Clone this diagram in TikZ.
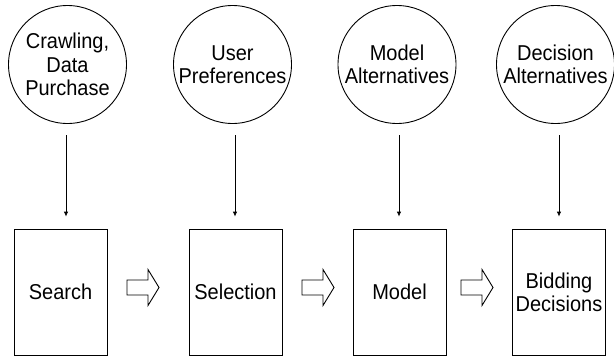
\documentclass[tikz,border=0pt]{standalone}
\usepackage{fontspec}
\setmainfont[FakeStretch=0.93]{Liberation Sans}
\usetikzlibrary{arrows.meta}

\tikzset{
  source/.style={draw, circle, minimum size=118pt, inner sep=0pt, align=center,
    font=\fontsize{21.5}{23.5}\selectfont},
  stage/.style={draw, rectangle, minimum width=93pt, minimum height=125.5pt, inner sep=0pt,
    align=center, font=\fontsize{21.5}{22.5}\selectfont},
  feed/.style={-{Latex[length=5pt,width=4.5pt]}, line width=0.8pt, shorten >=12.5pt},
  blockarrow/.pic={
    \draw[line width=0.9pt, line join=miter] (0,-7.5) -- ++(21,0) -- ++(0,-10.5) -- ++(11,18)
      -- ++(-11,18) -- ++(0,-10.5) -- ++(-21,0) -- cycle;
  }
}

\begin{document}
\begin{tikzpicture}[x=1pt, y=-1pt, line width=0.9pt]
  \useasboundingbox (0,0) rectangle (614,359);

  % input sources
  \node[source] (c1) at (67.5,64.5) {Crawling,\\Data\\Purchase};
  \node[source] (c2) at (232.5,64.5) {User\\Preferences};
  \node[source] (c3) at (397,64.5) {Model\\Alternatives};
  \node[source] (c4) at (555.5,64.5) {Decision\\Alternatives};

  % pipeline stages
  \node[stage] (s1) at (60.5,292.3) {Search};
  \node[stage] (s2) at (235.5,292.3) {Selection};
  \node[stage] (s3) at (399.5,292.3) {Model};
  \node[stage] (s4) at (559,292.3) {Bidding\\Decisions};

  % feed lines from sources into stages
  \coordinate (a1) at (66,135);
  \coordinate (a2) at (235,135);
  \coordinate (a3) at (399,135);
  \coordinate (a4) at (559,135);
  \draw[feed] (a1) -- (a1 |- s1.north);
  \draw[feed] (a2) -- (a2 |- s2.north);
  \draw[feed] (a3) -- (a3 |- s3.north);
  \draw[feed] (a4) -- (a4 |- s4.north);

  % hollow arrows between stages
  \pic at (127,287.5) {blockarrow};
  \pic at (302,287.5) {blockarrow};
  \pic at (461,287.5) {blockarrow};
\end{tikzpicture}
\end{document}
